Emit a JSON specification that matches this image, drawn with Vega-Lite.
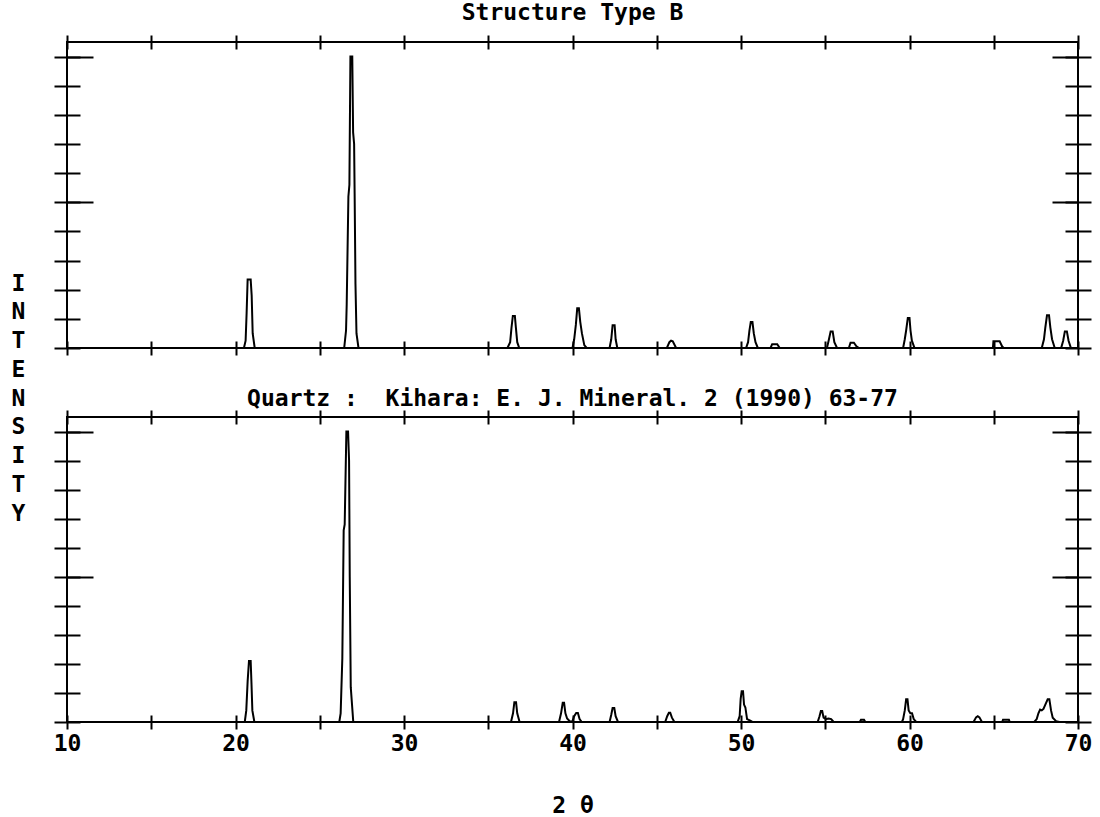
{
  "$schema": "https://vega.github.io/schema/vega-lite/v6.json",
  "background": "white",
  "padding": {"left": 10, "top": 1, "right": 5, "bottom": 5},
  "bounds": "flush",
  "spacing": 69,
  "config": {
    "view": {"stroke": "black", "strokeWidth": 2},
    "font": "DejaVu Sans Mono",
    "axis": {"domain": false, "grid": false, "ticks": true, "tickColor": "black", "tickWidth": 2, "tickCap": "butt",
      "labelFont": "DejaVu Sans Mono", "labelFontWeight": "bold", "labelFontSize": 23, "labelColor": "black",
      "titleFont": "DejaVu Sans Mono", "titleFontWeight": "bold", "titleFontSize": 23, "titleColor": "black"},
    "title": {"font": "DejaVu Sans Mono", "fontSize": 23, "fontWeight": "bold", "color": "black", "anchor": "middle", "frame": "group", "baseline": "alphabetic"}
  },
  "datasets": {
    "typeB": [
      {"two_theta": 10, "intensity": 0},
      {"two_theta": 20.5, "intensity": 0}, {"two_theta": 20.6, "intensity": 2.5}, {"two_theta": 20.66, "intensity": 12}, {"two_theta": 20.72, "intensity": 23.5}, {"two_theta": 20.9, "intensity": 23.5}, {"two_theta": 20.96, "intensity": 18}, {"two_theta": 21.02, "intensity": 5}, {"two_theta": 21.14, "intensity": 0},
      {"two_theta": 26.45, "intensity": 0}, {"two_theta": 26.56, "intensity": 6}, {"two_theta": 26.6, "intensity": 15}, {"two_theta": 26.7, "intensity": 52}, {"two_theta": 26.76, "intensity": 56}, {"two_theta": 26.82, "intensity": 100}, {"two_theta": 26.93, "intensity": 100}, {"two_theta": 26.98, "intensity": 74}, {"two_theta": 27.04, "intensity": 70}, {"two_theta": 27.07, "intensity": 53}, {"two_theta": 27.12, "intensity": 22}, {"two_theta": 27.18, "intensity": 5}, {"two_theta": 27.3, "intensity": 0},
      {"two_theta": 36.14, "intensity": 0}, {"two_theta": 36.3, "intensity": 2}, {"two_theta": 36.38, "intensity": 7}, {"two_theta": 36.46, "intensity": 11}, {"two_theta": 36.58, "intensity": 11}, {"two_theta": 36.64, "intensity": 7}, {"two_theta": 36.72, "intensity": 2}, {"two_theta": 36.84, "intensity": 0},
      {"two_theta": 40.0, "intensity": 0}, {"two_theta": 40.1, "intensity": 3}, {"two_theta": 40.2, "intensity": 8}, {"two_theta": 40.28, "intensity": 13.6}, {"two_theta": 40.38, "intensity": 13.6}, {"two_theta": 40.46, "intensity": 9}, {"two_theta": 40.56, "intensity": 5}, {"two_theta": 40.7, "intensity": 1}, {"two_theta": 40.84, "intensity": 0},
      {"two_theta": 42.2, "intensity": 0}, {"two_theta": 42.3, "intensity": 3}, {"two_theta": 42.38, "intensity": 7.8}, {"two_theta": 42.5, "intensity": 7.8}, {"two_theta": 42.56, "intensity": 3}, {"two_theta": 42.66, "intensity": 0},
      {"two_theta": 45.6, "intensity": 0}, {"two_theta": 45.75, "intensity": 2}, {"two_theta": 45.85, "intensity": 2.5}, {"two_theta": 45.95, "intensity": 2.3}, {"two_theta": 46.15, "intensity": 0},
      {"two_theta": 50.3, "intensity": 0}, {"two_theta": 50.42, "intensity": 2}, {"two_theta": 50.5, "intensity": 6}, {"two_theta": 50.58, "intensity": 8.9}, {"two_theta": 50.68, "intensity": 8.9}, {"two_theta": 50.76, "intensity": 5}, {"two_theta": 50.86, "intensity": 2}, {"two_theta": 51.0, "intensity": 0},
      {"two_theta": 51.75, "intensity": 0}, {"two_theta": 51.85, "intensity": 1.3}, {"two_theta": 52.15, "intensity": 1.3}, {"two_theta": 52.3, "intensity": 0},
      {"two_theta": 55.1, "intensity": 0}, {"two_theta": 55.22, "intensity": 3}, {"two_theta": 55.32, "intensity": 5.7}, {"two_theta": 55.44, "intensity": 5.7}, {"two_theta": 55.54, "intensity": 2}, {"two_theta": 55.7, "intensity": 0},
      {"two_theta": 56.4, "intensity": 0}, {"two_theta": 56.5, "intensity": 1.8}, {"two_theta": 56.7, "intensity": 1.8}, {"two_theta": 56.85, "intensity": 0.6}, {"two_theta": 57.0, "intensity": 0},
      {"two_theta": 59.62, "intensity": 0}, {"two_theta": 59.72, "intensity": 3}, {"two_theta": 59.8, "intensity": 6}, {"two_theta": 59.9, "intensity": 10.3}, {"two_theta": 60.0, "intensity": 10.3}, {"two_theta": 60.06, "intensity": 6}, {"two_theta": 60.14, "intensity": 2.5}, {"two_theta": 60.3, "intensity": 0},
      {"two_theta": 64.95, "intensity": 0}, {"two_theta": 64.98, "intensity": 2.3}, {"two_theta": 65.35, "intensity": 2.3}, {"two_theta": 65.5, "intensity": 0.5}, {"two_theta": 65.6, "intensity": 0},
      {"two_theta": 67.85, "intensity": 0}, {"two_theta": 67.98, "intensity": 3}, {"two_theta": 68.06, "intensity": 7}, {"two_theta": 68.16, "intensity": 11.2}, {"two_theta": 68.28, "intensity": 11.2}, {"two_theta": 68.36, "intensity": 7}, {"two_theta": 68.46, "intensity": 3}, {"two_theta": 68.62, "intensity": 0},
      {"two_theta": 69.0, "intensity": 0}, {"two_theta": 69.12, "intensity": 2.5}, {"two_theta": 69.22, "intensity": 5.7}, {"two_theta": 69.34, "intensity": 5.7}, {"two_theta": 69.44, "intensity": 2.5}, {"two_theta": 69.58, "intensity": 0},
      {"two_theta": 70, "intensity": 0}
    ],
    "quartz": [
      {"two_theta": 10, "intensity": 0},
      {"two_theta": 20.55, "intensity": 0}, {"two_theta": 20.64, "intensity": 4}, {"two_theta": 20.72, "intensity": 14}, {"two_theta": 20.8, "intensity": 21}, {"two_theta": 20.9, "intensity": 21}, {"two_theta": 20.95, "intensity": 13}, {"two_theta": 21.0, "intensity": 4}, {"two_theta": 21.12, "intensity": 0},
      {"two_theta": 26.16, "intensity": 0}, {"two_theta": 26.24, "intensity": 3}, {"two_theta": 26.34, "intensity": 22}, {"two_theta": 26.42, "intensity": 66}, {"two_theta": 26.48, "intensity": 68}, {"two_theta": 26.58, "intensity": 100}, {"two_theta": 26.68, "intensity": 100}, {"two_theta": 26.74, "intensity": 90}, {"two_theta": 26.78, "intensity": 50}, {"two_theta": 26.84, "intensity": 12}, {"two_theta": 26.99, "intensity": 0},
      {"two_theta": 36.35, "intensity": 0}, {"two_theta": 36.47, "intensity": 3}, {"two_theta": 36.55, "intensity": 6.8}, {"two_theta": 36.65, "intensity": 6.8}, {"two_theta": 36.72, "intensity": 3}, {"two_theta": 36.86, "intensity": 0},
      {"two_theta": 39.2, "intensity": 0}, {"two_theta": 39.32, "intensity": 3}, {"two_theta": 39.42, "intensity": 6.6}, {"two_theta": 39.5, "intensity": 6.6}, {"two_theta": 39.58, "intensity": 3}, {"two_theta": 39.68, "intensity": 1.2}, {"two_theta": 39.85, "intensity": 0.2}, {"two_theta": 40.0, "intensity": 0.3}, {"two_theta": 40.1, "intensity": 2}, {"two_theta": 40.22, "intensity": 3.1}, {"two_theta": 40.32, "intensity": 3.1}, {"two_theta": 40.42, "intensity": 1}, {"two_theta": 40.55, "intensity": 0},
      {"two_theta": 42.2, "intensity": 0}, {"two_theta": 42.3, "intensity": 2.5}, {"two_theta": 42.38, "intensity": 4.8}, {"two_theta": 42.48, "intensity": 4.8}, {"two_theta": 42.56, "intensity": 2}, {"two_theta": 42.7, "intensity": 0},
      {"two_theta": 45.5, "intensity": 0}, {"two_theta": 45.62, "intensity": 2}, {"two_theta": 45.72, "intensity": 3.2}, {"two_theta": 45.8, "intensity": 3.2}, {"two_theta": 45.9, "intensity": 1.5}, {"two_theta": 46.05, "intensity": 0},
      {"two_theta": 49.8, "intensity": 0}, {"two_theta": 49.92, "intensity": 2}, {"two_theta": 49.98, "intensity": 8}, {"two_theta": 50.04, "intensity": 10.6}, {"two_theta": 50.12, "intensity": 10.6}, {"two_theta": 50.18, "intensity": 6}, {"two_theta": 50.26, "intensity": 5}, {"two_theta": 50.36, "intensity": 1}, {"two_theta": 50.55, "intensity": 0.5}, {"two_theta": 50.7, "intensity": 0},
      {"two_theta": 54.55, "intensity": 0}, {"two_theta": 54.66, "intensity": 2}, {"two_theta": 54.74, "intensity": 3.8}, {"two_theta": 54.82, "intensity": 3.8}, {"two_theta": 54.9, "intensity": 1.5}, {"two_theta": 55.05, "intensity": 1}, {"two_theta": 55.2, "intensity": 1.2}, {"two_theta": 55.35, "intensity": 1}, {"two_theta": 55.5, "intensity": 0},
      {"two_theta": 57.05, "intensity": 0}, {"two_theta": 57.12, "intensity": 0.8}, {"two_theta": 57.3, "intensity": 0.8}, {"two_theta": 57.38, "intensity": 0},
      {"two_theta": 59.55, "intensity": 0}, {"two_theta": 59.62, "intensity": 1}, {"two_theta": 59.72, "intensity": 4}, {"two_theta": 59.8, "intensity": 7.8}, {"two_theta": 59.88, "intensity": 7.8}, {"two_theta": 59.95, "intensity": 4}, {"two_theta": 60.05, "intensity": 3}, {"two_theta": 60.15, "intensity": 3}, {"two_theta": 60.25, "intensity": 1}, {"two_theta": 60.4, "intensity": 0},
      {"two_theta": 63.8, "intensity": 0}, {"two_theta": 63.95, "intensity": 1.6}, {"two_theta": 64.05, "intensity": 2}, {"two_theta": 64.15, "intensity": 1.6}, {"two_theta": 64.3, "intensity": 0},
      {"two_theta": 65.5, "intensity": 0}, {"two_theta": 65.55, "intensity": 0.8}, {"two_theta": 65.9, "intensity": 0.8}, {"two_theta": 65.95, "intensity": 0},
      {"two_theta": 67.4, "intensity": 0}, {"two_theta": 67.55, "intensity": 1}, {"two_theta": 67.65, "intensity": 3}, {"two_theta": 67.75, "intensity": 4.3}, {"two_theta": 67.85, "intensity": 4}, {"two_theta": 67.95, "intensity": 4.5}, {"two_theta": 68.1, "intensity": 6.5}, {"two_theta": 68.2, "intensity": 7.8}, {"two_theta": 68.3, "intensity": 7.8}, {"two_theta": 68.4, "intensity": 4}, {"two_theta": 68.5, "intensity": 1.5}, {"two_theta": 68.7, "intensity": 0.3}, {"two_theta": 68.9, "intensity": 0},
      {"two_theta": 70, "intensity": 0}
    ]
  },
  "vconcat": [
    {
      "width": 1011,
      "height": 306,
      "title": {"text": "Structure Type B", "offset": 9},
      "data": {"name": "typeB"},
      "layer": [
        {
          "mark": {"type": "line", "color": "black", "strokeWidth": 2},
          "encoding": {
            "x": {"field": "two_theta", "type": "quantitative", "scale": {"domain": [10, 70], "nice": false, "zero": false},
              "axis": {"orient": "bottom", "values": [10, 15, 20, 25, 30, 35, 40, 45, 50, 55, 60, 65, 70], "labels": false, "offset": -7, "tickSize": 14, "title": null}},
            "y": {"field": "intensity", "type": "quantitative", "scale": {"domain": [0, 105], "nice": false},
              "axis": {"orient": "left", "values": [0, 10, 20, 30, 40, 50, 60, 70, 80, 90, 100], "labels": false, "offset": -13, "tickSize": 26,
                "title": ["I", "N", "T", "E", "N", "S", "I", "T", "Y"], "titleAngle": 0, "titleAlign": "center", "titleBaseline": "middle", "titleLineHeight": 28.75, "titleX": -62, "titleY": 241}}
          }
        },
        {
          "mark": {"type": "line", "opacity": 0},
          "encoding": {
            "x": {"field": "two_theta", "type": "quantitative", "scale": {"domain": [10, 70], "nice": false, "zero": false},
              "axis": {"orient": "top", "values": [10, 15, 20, 25, 30, 35, 40, 45, 50, 55, 60, 65, 70], "labels": false, "offset": -7, "tickSize": 14, "title": null}},
            "y": {"field": "intensity", "type": "quantitative", "scale": {"domain": [0, 105], "nice": false},
              "axis": {"orient": "right", "values": [0, 10, 20, 30, 40, 50, 60, 70, 80, 90, 100], "labels": false, "offset": -13, "tickSize": 26, "title": null}}
          }
        },
        {
          "mark": {"type": "line", "opacity": 0},
          "encoding": {
            "x": {"field": "two_theta", "type": "quantitative", "axis": null},
            "y": {"field": "intensity", "type": "quantitative",
              "axis": {"orient": "left", "values": [50, 100], "labels": false, "offset": 0, "tickSize": -26, "title": null}}
          }
        },
        {
          "mark": {"type": "line", "opacity": 0},
          "encoding": {
            "x": {"field": "two_theta", "type": "quantitative", "axis": null},
            "y": {"field": "intensity", "type": "quantitative",
              "axis": {"orient": "right", "values": [50, 100], "labels": false, "offset": 0, "tickSize": -26, "title": null}}
          }
        }
      ],
      "resolve": {"axis": {"x": "independent", "y": "independent"}}
    },
    {
      "width": 1011,
      "height": 305,
      "title": {"text": "Quartz : \u00a0Kihara: E. J. Mineral. 2 (1990) 63-77", "offset": -2},
      "data": {"name": "quartz"},
      "layer": [
        {
          "mark": {"type": "line", "color": "black", "strokeWidth": 2},
          "encoding": {
            "x": {"field": "two_theta", "type": "quantitative", "scale": {"domain": [10, 70], "nice": false, "zero": false},
              "axis": {"orient": "bottom", "values": [10, 15, 20, 25, 30, 35, 40, 45, 50, 55, 60, 65, 70], "offset": -7, "tickSize": 14,
                "labelExpr": "datum.value % 10 == 0 ? datum.label : ''", "labelPadding": 3, "labelOverlap": false, "labelFlush": false, "labelBound": false,
                "title": "2 θ", "titleBaseline": "top", "titleY": 79}},
            "y": {"field": "intensity", "type": "quantitative", "scale": {"domain": [0, 105], "nice": false},
              "axis": {"orient": "left", "values": [0, 10, 20, 30, 40, 50, 60, 70, 80, 90, 100], "labels": false, "offset": -13, "tickSize": 26, "title": null}}
          }
        },
        {
          "mark": {"type": "line", "opacity": 0},
          "encoding": {
            "x": {"field": "two_theta", "type": "quantitative", "scale": {"domain": [10, 70], "nice": false, "zero": false},
              "axis": {"orient": "top", "values": [10, 15, 20, 25, 30, 35, 40, 45, 50, 55, 60, 65, 70], "labels": false, "offset": -7, "tickSize": 14, "title": null}},
            "y": {"field": "intensity", "type": "quantitative", "scale": {"domain": [0, 105], "nice": false},
              "axis": {"orient": "right", "values": [0, 10, 20, 30, 40, 50, 60, 70, 80, 90, 100], "labels": false, "offset": -13, "tickSize": 26, "title": null}}
          }
        },
        {
          "mark": {"type": "line", "opacity": 0},
          "encoding": {
            "x": {"field": "two_theta", "type": "quantitative", "axis": null},
            "y": {"field": "intensity", "type": "quantitative",
              "axis": {"orient": "left", "values": [50, 100], "labels": false, "offset": 0, "tickSize": -26, "title": null}}
          }
        },
        {
          "mark": {"type": "line", "opacity": 0},
          "encoding": {
            "x": {"field": "two_theta", "type": "quantitative", "axis": null},
            "y": {"field": "intensity", "type": "quantitative",
              "axis": {"orient": "right", "values": [50, 100], "labels": false, "offset": 0, "tickSize": -26, "title": null}}
          }
        }
      ],
      "resolve": {"axis": {"x": "independent", "y": "independent"}}
    }
  ]
}
